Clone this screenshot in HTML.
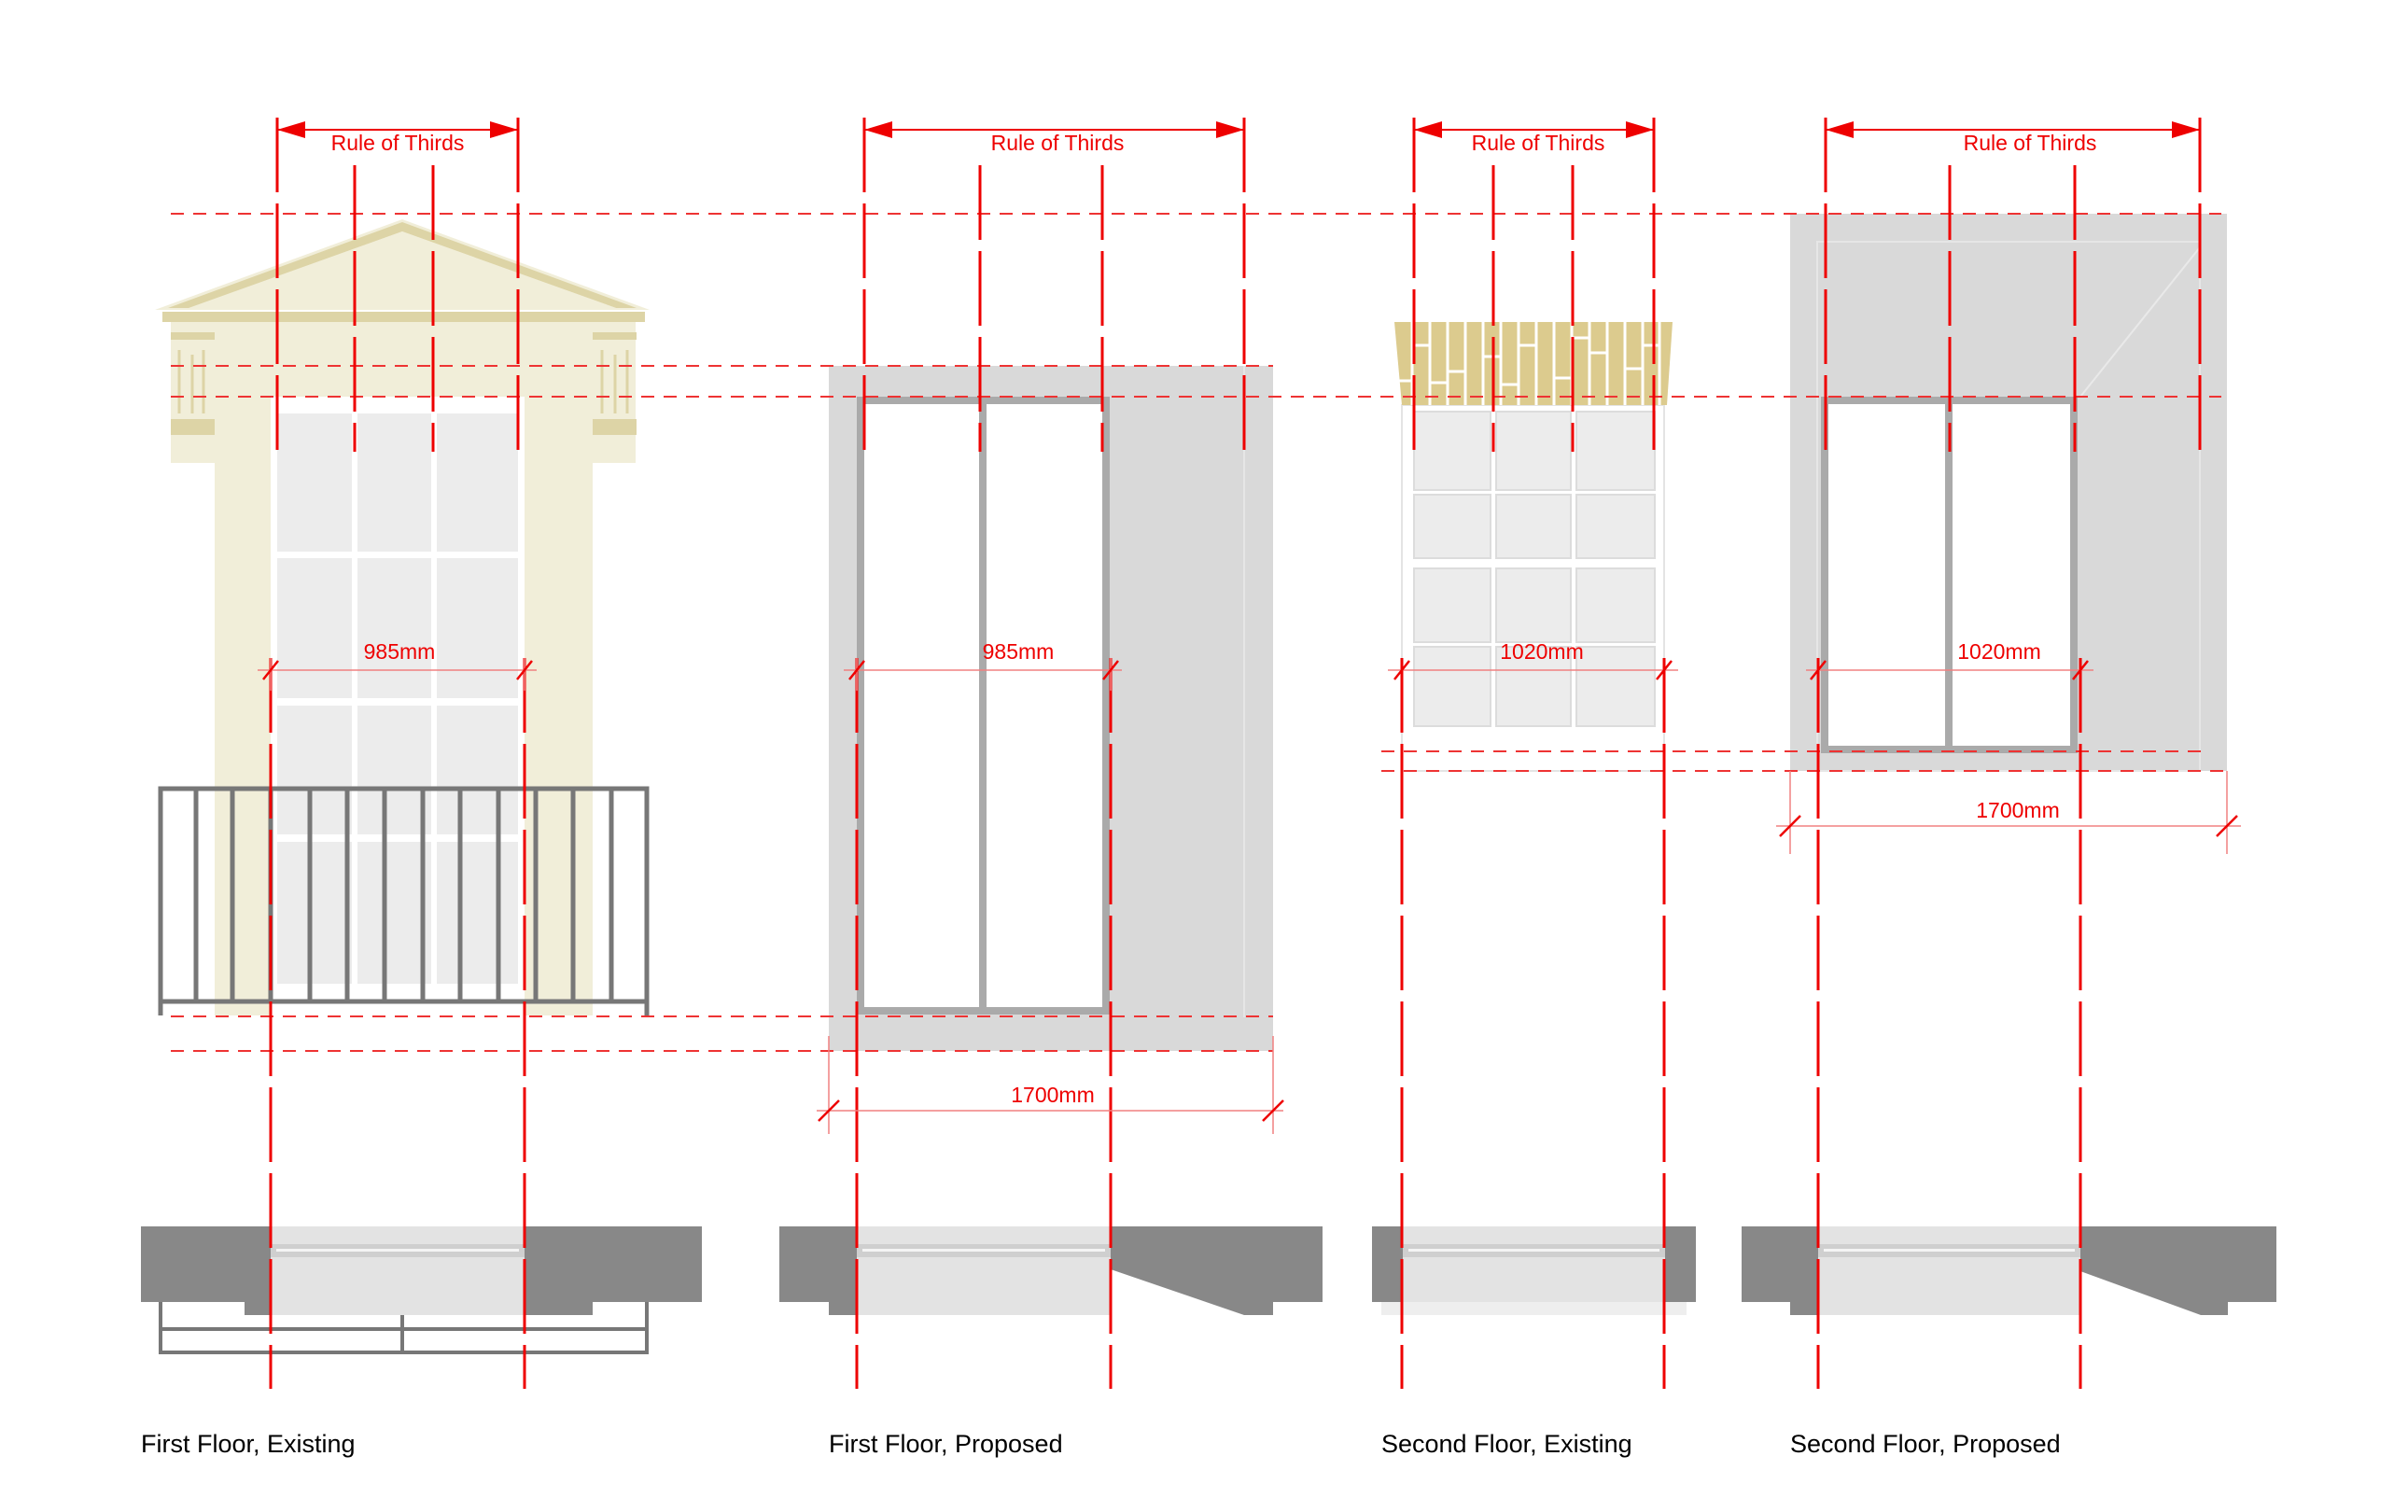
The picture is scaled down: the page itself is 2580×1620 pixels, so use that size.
<!DOCTYPE html>
<html><head><meta charset="utf-8"><style>html,body{margin:0;padding:0;background:#fff}svg{display:block}</style></head>
<body>
<svg width="2580" height="1620" viewBox="0 0 2580 1620" xmlns="http://www.w3.org/2000/svg" font-family="Liberation Sans, DejaVu Sans, sans-serif">
<defs>
<marker id="ah" viewBox="0 0 30 18" refX="30" refY="9" markerWidth="30" markerHeight="18" markerUnits="userSpaceOnUse" orient="auto-start-reverse"><path d="M0,0 L30,9 L0,18 Z" fill="#ee0000"/></marker>
</defs>

<rect x="183" y="345" width="498" height="151" fill="#f1eed9"/>
<rect x="230" y="345" width="405" height="743" fill="#f1eed9"/>
<rect x="290" y="425" width="272" height="663" fill="#fff"/>
<g fill="#ececec">
<rect x="297" y="443" width="80" height="148"/><rect x="383" y="443" width="79" height="148"/><rect x="468" y="443" width="87" height="148"/>
<rect x="297" y="598" width="80" height="150"/><rect x="383" y="598" width="79" height="150"/><rect x="468" y="598" width="87" height="150"/>
<rect x="297" y="756" width="80" height="138"/><rect x="383" y="756" width="79" height="138"/><rect x="468" y="756" width="87" height="138"/>
<rect x="297" y="902" width="80" height="152"/><rect x="383" y="902" width="79" height="152"/><rect x="468" y="902" width="87" height="152"/>
</g>
<polygon points="166,332 431,235 696,332" fill="#f1eed9"/>
<polygon points="180,330 431,238 682,330 660,330 431,248 202,330" fill="#ddd4a6"/>
<polygon points="203,330 431,248 660,330" fill="#f1eed9"/>
<rect x="174" y="334" width="517" height="11" fill="#ddd4a6"/>
<rect x="183" y="356" width="47" height="8" fill="#ddd4a6"/>
<rect x="635" y="356" width="47" height="8" fill="#ddd4a6"/>
<rect x="183" y="449" width="47" height="17" fill="#ddd4a6"/>
<rect x="635" y="449" width="47" height="17" fill="#ddd4a6"/>
<g stroke="#ddd4a6" stroke-width="3"><line x1="192" y1="375" x2="192" y2="443"/><line x1="206" y1="380" x2="206" y2="443"/><line x1="218" y1="375" x2="218" y2="443"/>
<line x1="645" y1="375" x2="645" y2="443"/><line x1="659" y1="380" x2="659" y2="443"/><line x1="672" y1="375" x2="672" y2="443"/></g>
<g stroke="#777" stroke-width="5" fill="none">
<rect x="172" y="845" width="521" height="228"/>
<line x1="172" y1="1073" x2="172" y2="1088"/><line x1="693" y1="1073" x2="693" y2="1088"/>
<path d="M210,845V1073M249,845V1073M290,845V1073M332,845V1073M372,845V1073M412,845V1073M453,845V1073M493,845V1073M534,845V1073M574,845V1073M614,845V1073M655,845V1073"/>
</g>
<rect x="290" y="1314" width="272" height="95" fill="#e3e3e3"/>
<path d="M151,1314H290V1409H262V1395H151Z" fill="#888"/>
<path d="M562,1314H752V1395H635V1409H562Z" fill="#888"/>
<rect x="290" y="1333" width="272" height="14" fill="#cfcfcf"/><rect x="296" y="1338" width="260" height="3" fill="#f4f4f4"/>
<g stroke="#777" stroke-width="4" fill="none"><path d="M172,1395V1449H693V1395M172,1424H693M431,1409V1449"/></g>

<rect x="888" y="392" width="476" height="734" fill="#d9d9d9"/>
<line x1="1333" y1="392" x2="1333" y2="1090" stroke="#e6e6e6" stroke-width="2"/>
<rect x="922" y="429" width="263" height="654" fill="#fff" stroke="#aaa" stroke-width="8"/>
<line x1="1053" y1="429" x2="1053" y2="1083" stroke="#aaa" stroke-width="8"/>
<rect x="918" y="1314" width="272" height="95" fill="#e3e3e3"/>
<path d="M835,1314H918V1409H888V1395H835Z" fill="#888"/>
<path d="M1190,1314H1417V1395H1364V1409H1333L1190,1360Z" fill="#888"/>
<rect x="918" y="1333" width="272" height="14" fill="#cfcfcf"/><rect x="924" y="1338" width="260" height="3" fill="#f4f4f4"/>

<rect x="1502" y="434" width="281" height="392" fill="#fff" stroke="#e4e4e4" stroke-width="2"/>
<g fill="#ececec" stroke="#dcdcdc" stroke-width="2">
<rect x="1515" y="441" width="82" height="84"/><rect x="1603" y="441" width="80" height="84"/><rect x="1689" y="441" width="84" height="84"/>
<rect x="1515" y="530" width="82" height="68"/><rect x="1603" y="530" width="80" height="68"/><rect x="1689" y="530" width="84" height="68"/>
<rect x="1515" y="609" width="82" height="79"/><rect x="1603" y="609" width="80" height="79"/><rect x="1689" y="609" width="84" height="79"/>
<rect x="1515" y="693" width="82" height="85"/><rect x="1603" y="693" width="80" height="85"/><rect x="1689" y="693" width="84" height="85"/>
</g>
<polygon points="1494,345 1792,345 1786,434 1502,434" fill="#dccb8e"/>
<g stroke="#fff" stroke-width="3">
<path d="M1513,345V434M1532,345V434M1551,345V434M1570,345V434M1589,345V434M1608,345V434M1627,345V434M1646,345V434M1665,345V434M1684,345V434M1703,345V434M1722,345V434M1741,345V434M1760,345V434M1778,345V434"/>
<path d="M1513,370H1532M1551,398H1570M1589,382H1608M1627,370H1646M1665,405H1684M1703,378H1722M1741,395H1760M1532,410H1551M1608,412H1627M1684,362H1703M1760,370H1778M1494,408H1513"/>
</g>
<rect x="1480" y="1395" width="327" height="14" fill="#eeeeee"/>
<rect x="1503" y="1314" width="281" height="81" fill="#e3e3e3"/>
<rect x="1470" y="1314" width="33" height="81" fill="#888"/>
<rect x="1784" y="1314" width="33" height="81" fill="#888"/>
<rect x="1503" y="1333" width="281" height="14" fill="#cfcfcf"/><rect x="1509" y="1338" width="269" height="3" fill="#f4f4f4"/>

<rect x="1918" y="229" width="468" height="597" fill="#d9d9d9"/>
<rect x="1947" y="259" width="410" height="567" fill="none" stroke="#e6e6e6" stroke-width="2"/>
<line x1="2357" y1="265" x2="2229" y2="425" stroke="#e9e9e9" stroke-width="2"/>
<rect x="1955" y="429" width="267" height="374" fill="#fff" stroke="#aaa" stroke-width="8"/>
<line x1="2088" y1="429" x2="2088" y2="803" stroke="#aaa" stroke-width="8"/>
<rect x="1948" y="1314" width="281" height="95" fill="#e3e3e3"/>
<path d="M1866,1314H1948V1409H1918V1395H1866Z" fill="#888"/>
<path d="M2229,1314H2439V1395H2387V1409H2358L2229,1362Z" fill="#888"/>
<rect x="1948" y="1333" width="281" height="14" fill="#cfcfcf"/><rect x="1954" y="1338" width="269" height="3" fill="#f4f4f4"/>

<g stroke="#ee3333" stroke-width="2" stroke-dasharray="14 10" fill="none">
<line x1="183" y1="229" x2="2380" y2="229"/>
<line x1="183" y1="392" x2="1364" y2="392"/>
<line x1="183" y1="425" x2="2380" y2="425"/>
<line x1="183" y1="1089" x2="1364" y2="1089"/>
<line x1="183" y1="1126" x2="1364" y2="1126"/>
<line x1="1480" y1="805" x2="2362" y2="805"/>
<line x1="1480" y1="826" x2="2386" y2="826"/>
</g>

<g stroke="#ee0000" stroke-width="3" stroke-dasharray="80 12" fill="none">
<path d="M297,126V484M555,126V484M380,177V484M464,177V484"/>
<path d="M926,126V484M1333,126V484M1050,177V484M1181,177V484"/>
<path d="M1515,126V484M1772,126V484M1600,177V484M1685,177V484"/>
<path d="M1956,126V484M2357,126V484M2089,177V484M2223,177V484"/>
<path d="M290,705V1488M562,705V1488"/>
<path d="M918,705V1488M1190,705V1488"/>
<path d="M1502,705V1488M1783,705V1488"/>
<path d="M1948,705V1488M2229,705V1488"/>
</g>

<g stroke="#ee0000" stroke-width="2" fill="none">
<line x1="297" y1="139" x2="555" y2="139" marker-start="url(#ah)" marker-end="url(#ah)"/>
<line x1="926" y1="139" x2="1333" y2="139" marker-start="url(#ah)" marker-end="url(#ah)"/>
<line x1="1515" y1="139" x2="1772" y2="139" marker-start="url(#ah)" marker-end="url(#ah)"/>
<line x1="1956" y1="139" x2="2357" y2="139" marker-start="url(#ah)" marker-end="url(#ah)"/>
</g>
<g fill="#ee0000" font-size="23" text-anchor="middle">
<text x="426" y="161">Rule of Thirds</text>
<text x="1133" y="161">Rule of Thirds</text>
<text x="1648" y="161">Rule of Thirds</text>
<text x="2175" y="161">Rule of Thirds</text>
</g>

<g stroke="#f08080" stroke-width="1.5" fill="none">
<path d="M276,718H575M290,705V740M562,705V740"/>
<path d="M904,718H1202M918,705V740M1190,705V740"/>
<path d="M1487,718H1798"/>
<path d="M1935,718H2243"/>
<path d="M875,1190H1375M888,1110V1215M1364,1110V1215"/>
<path d="M1903,885H2401M1918,826V915M2386,826V915"/>
</g>
<g stroke="#ee0000" stroke-width="2.5">
<path d="M282,728L298,708M554,728L570,708"/>
<path d="M910,728L926,708M1182,728L1198,708"/>
<path d="M1494,728L1510,708M1775,728L1791,708"/>
<path d="M1940,728L1956,708M2221,728L2237,708"/>
<path d="M877,1201L899,1179M1353,1201L1375,1179"/>
<path d="M1907,896L1929,874M2375,896L2397,874"/>
</g>
<g fill="#ee0000" font-size="23" text-anchor="middle">
<text x="428" y="706">985mm</text>
<text x="1091" y="706">985mm</text>
<text x="1652" y="706">1020mm</text>
<text x="2142" y="706">1020mm</text>
<text x="1128" y="1181">1700mm</text>
<text x="2162" y="876">1700mm</text>
</g>

<g fill="#000" font-size="27">
<text x="151" y="1556">First Floor, Existing</text>
<text x="888" y="1556">First Floor, Proposed</text>
<text x="1480" y="1556">Second Floor, Existing</text>
<text x="1918" y="1556">Second Floor, Proposed</text>
</g>
</svg>
</body></html>
